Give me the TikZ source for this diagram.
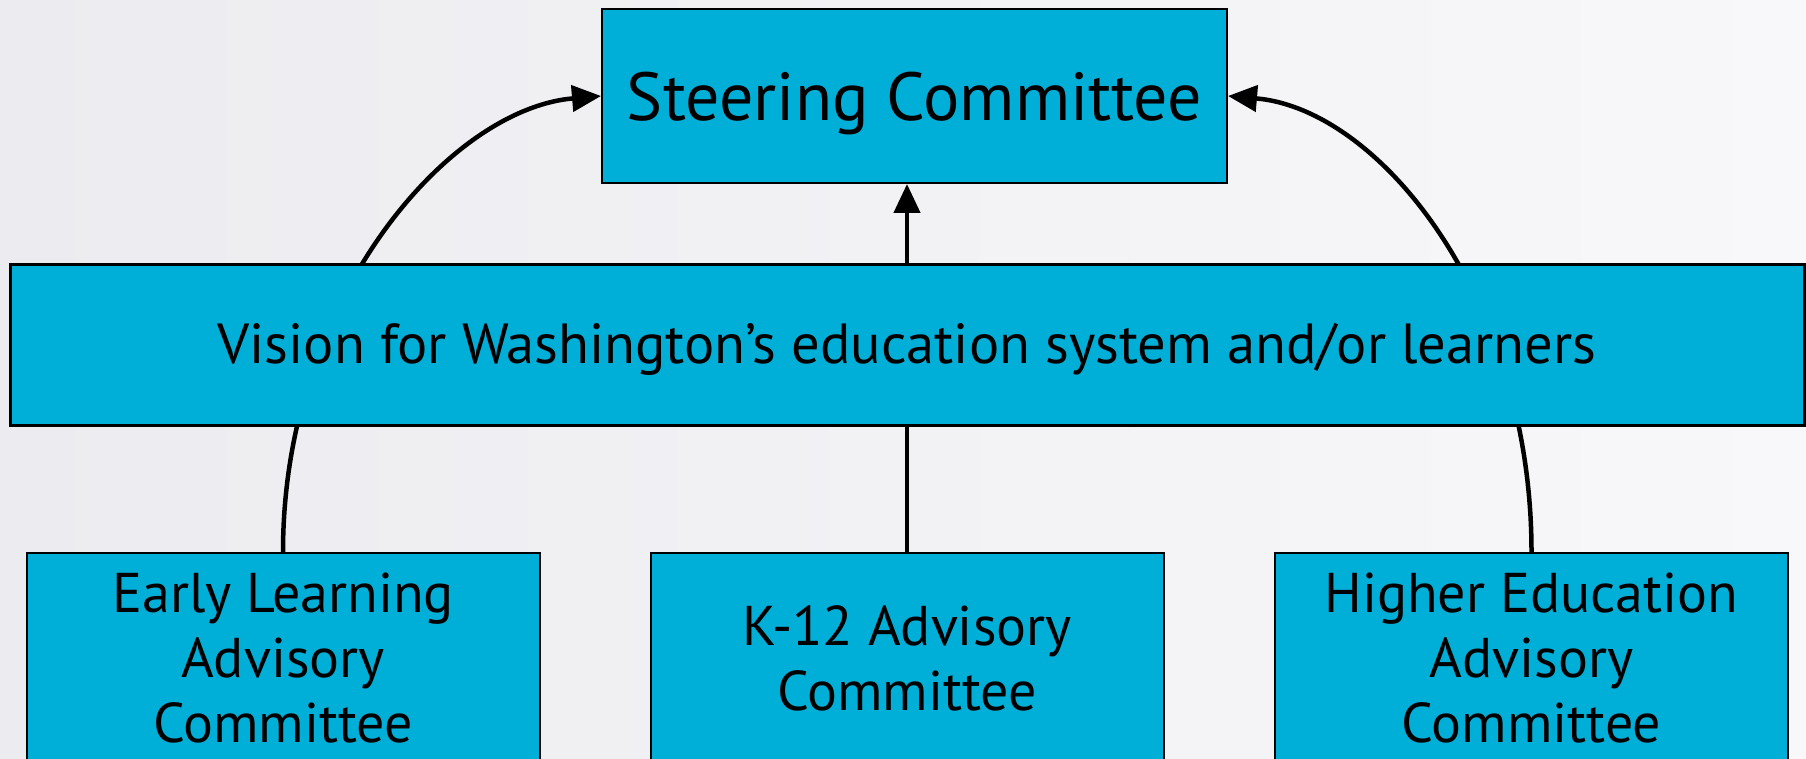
\documentclass[tikz,border=0pt]{standalone}
\usepackage{fontspec}
\setmainfont{PT Sans}
\usetikzlibrary{arrows.meta}
\definecolor{boxcyan}{RGB}{0,175,216}
\definecolor{bgA}{RGB}{236,236,240}
\definecolor{bgB}{RGB}{248,248,250}
\pgfdeclarelayer{bglayer}
\pgfdeclarelayer{connlayer}
\pgfsetlayers{bglayer,connlayer,main}
\begin{document}
\begin{tikzpicture}[x=1pt,y=-1pt,
  box/.style={draw=black, line width=2pt, fill=boxcyan, inner sep=0pt, align=center},
  subbox/.style={box, minimum width=513pt, minimum height=210pt, font=\fontsize{56}{65}\selectfont},
  conn/.style={line width=4.5pt, -{Triangle[length=29pt,width=26pt]}}]
\useasboundingbox (0,0) rectangle (1806,759);
\clip (0,0) rectangle (1806,759);
\begin{pgfonlayer}{bglayer}
\shade[left color=bgA, right color=bgB] (0,0) rectangle (1806,759);
\end{pgfonlayer}
\node[box, minimum width=625pt, minimum height=174pt, font=\fontsize{68}{80}\selectfont] (steer) at (914.5,96) {\raisebox{-25pt}[0pt][0pt]{Steering Committee}};
\node[box, line width=3pt, minimum width=1794pt, minimum height=160pt, font=\fontsize{56.5}{66}\selectfont] (vision) at (907,345) {\raisebox{-18pt}[0pt][0pt]{Vision for Washington’s education system and/or learners}};
\node[subbox] (early) at (283,658) {Early Learning\\Advisory\\Committee};
\node[subbox] (k12) at (907,658) {K-12 Advisory\\Committee};
\node[subbox] (higher) at (1531.5,658) {Higher Education\\Advisory\\Committee};
\begin{pgfonlayer}{connlayer}
\draw[conn] (early.north) .. controls +(0,-253) and +(-152,13) .. (steer.west);
\draw[conn] (higher.north) .. controls +(0,-253) and +(152,13) .. (steer.east);
\draw[conn] (k12.north) -- (k12.north |- steer.south);
\end{pgfonlayer}
\end{tikzpicture}
\end{document}
